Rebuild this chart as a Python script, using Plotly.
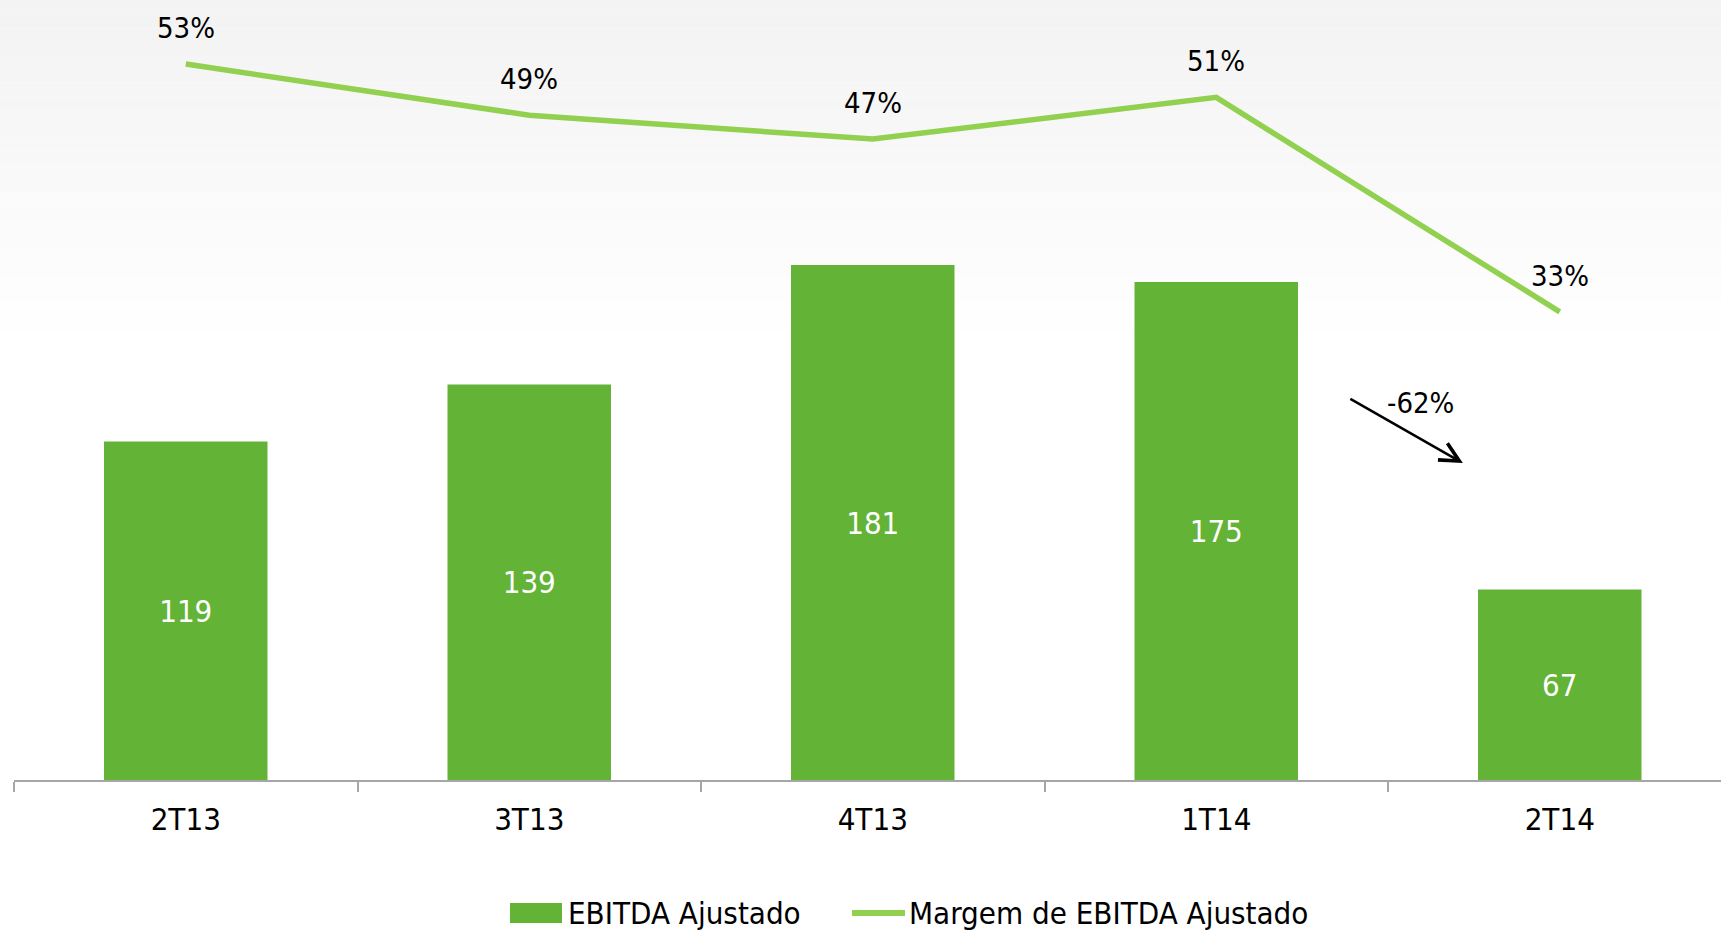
import plotly.graph_objects as go

categories = ["2T13", "3T13", "4T13", "1T14", "2T14"]
ebitda = [119, 139, 181, 175, 67]
margem = [53.4, 49.1, 47.1, 50.6, 32.6]
margem_labels = [f"{round(v)}%" for v in margem]
variacao = f"{round((ebitda[-1] / ebitda[-2] - 1) * 100)}%"
series_names = ["EBITDA Ajustado", "Margem de EBITDA Ajustado"]

FONT = "Liberation Sans Narrow, DejaVu Sans Condensed, Roboto Condensed, Arial Narrow, sans-serif"
BAR_COLOR = "#62b336"
LINE_COLOR = "#92d050"

W, H = 1721, 930
L, B = 14, 150
plot_w = W - L
plot_h = H - B
cat_w = 343.5


def px_x(p):
    return (p - L) / plot_w


def px_y(p):
    return (plot_h - p) / plot_h


fig = go.Figure()
fig.add_trace(go.Bar(
    x=categories, y=ebitda, name=series_names[0],
    marker=dict(color=BAR_COLOR, line=dict(width=0)),
    width=0.476,
    text=[str(v) for v in ebitda], textposition="inside",
    insidetextanchor="middle", textangle=0,
    textfont=dict(color="white", size=31, family=FONT),
    hoverinfo="skip", showlegend=False,
))
fig.add_trace(go.Scatter(
    x=categories, y=margem, name=series_names[1],
    mode="lines", yaxis="y2",
    line=dict(color=LINE_COLOR, width=5.5),
    hoverinfo="skip", showlegend=False,
))

annotations = []
for c, v, t in zip(categories, margem, margem_labels):
    annotations.append(dict(x=c, y=v, xref="x", yref="y2", text=t, showarrow=False,
                            yshift=36, yanchor="middle",
                            font=dict(size=29, color="black", family=FONT)))
# arrow between last two bars
annotations.append(dict(x=3.718, y=111.4, xref="x", yref="y", ax=-114, ay=-65,
                        axref="pixel", ayref="pixel", text="", showarrow=True,
                        arrowhead=5, arrowsize=1.5, arrowwidth=2.5, arrowcolor="black"))
annotations.append(dict(x=3.596, y=132.5, xref="x", yref="y", text=variacao,
                        showarrow=False, font=dict(size=29, color="black", family=FONT)))

shapes = []
# subtle top background gradient
n = 24
top_px = 330
for i in range(n):
    p0 = top_px * i / n
    p1 = top_px * (i + 1) / n
    g = int(243 + (255 - 243) * (i / n))
    shapes.append(dict(type="rect", xref="paper", yref="paper",
                       x0=px_x(0), x1=1, y0=px_y(p1), y1=px_y(p0),
                       fillcolor=f"rgb({g},{g},{g})", line=dict(width=0), layer="below"))

# custom legend (large swatches as in the original)
legend_y = 913
shapes.append(dict(type="rect", xref="paper", yref="paper",
                   x0=px_x(510), x1=px_x(562), y0=px_y(923), y1=px_y(903),
                   fillcolor=BAR_COLOR, line=dict(width=0)))
shapes.append(dict(type="line", xref="paper", yref="paper",
                   x0=px_x(852), x1=px_x(905), y0=px_y(legend_y), y1=px_y(legend_y),
                   line=dict(color=LINE_COLOR, width=6)))
annotations.append(dict(x=px_x(566), y=px_y(legend_y), xref="paper", yref="paper",
                        xanchor="left", yanchor="middle", showarrow=False,
                        text=series_names[0], font=dict(size=31, family=FONT, color="black")))
annotations.append(dict(x=px_x(907), y=px_y(legend_y), xref="paper", yref="paper",
                        xanchor="left", yanchor="middle", showarrow=False,
                        text=series_names[1], font=dict(size=31, family=FONT, color="black")))

y_max = plot_h / 2.845
y2_top = 53.4 + 64 / 11.92
y2_bot = 53.4 - (plot_h - 64) / 11.92

fig.update_layout(
    width=W, height=H,
    margin=dict(l=L, r=0, t=0, b=B, autoexpand=False),
    paper_bgcolor="white", plot_bgcolor="rgba(0,0,0,0)",
    font=dict(family=FONT, size=30, color="black"),
    showlegend=False,
    bargap=0.524,
    xaxis=dict(range=[-0.5, -0.5 + plot_w / cat_w], showgrid=False, zeroline=False,
               showline=True, linecolor="#a6a6a6", linewidth=2,
               ticks="outside", tickson="boundaries", ticklen=10, tickcolor="#a6a6a6",
               tickwidth=2, tickfont=dict(size=31, family=FONT), ticklabelstandoff=11,
               fixedrange=True),
    yaxis=dict(range=[0, y_max], visible=False, fixedrange=True),
    yaxis2=dict(range=[y2_bot, y2_top], overlaying="y", visible=False, fixedrange=True),
    annotations=annotations,
    shapes=shapes,
)

fig.write_html("out.html", config={"displayModeBar": False, "responsive": False},
               post_script="document.body.style.margin='0';document.body.style.overflow='hidden';")
